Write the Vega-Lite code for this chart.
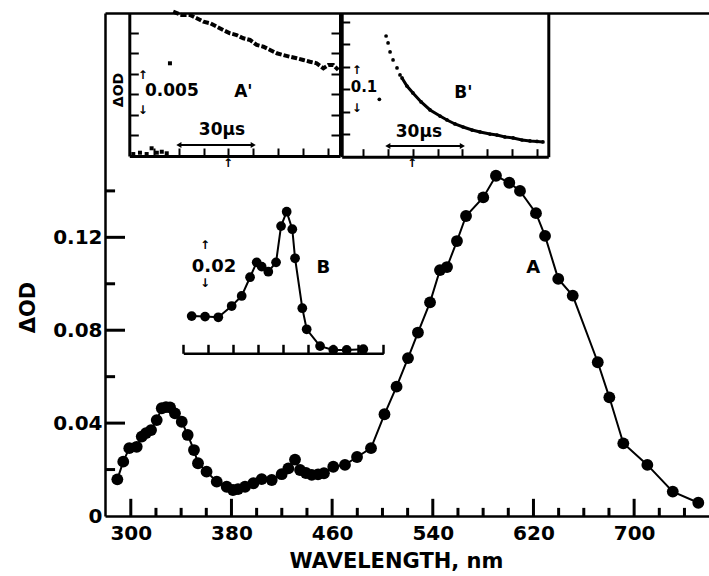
{
  "$schema": "https://vega.github.io/schema/vega-lite/v6.json",
  "width": 604,
  "height": 503,
  "autosize": {"type": "none"},
  "padding": {"left": 105, "top": 13, "right": 0, "bottom": 60},
  "background": "white",
  "config": {
    "view": {"stroke": null},
    "axis": {
      "grid": false, "domainColor": "#000", "tickColor": "#000", "labelColor": "#000", "titleColor": "#000",
      "labelFont": "DejaVu Sans", "titleFont": "DejaVu Sans", "labelFontWeight": "bold", "titleFontWeight": "bold",
      "labelFontSize": 20, "titleFontSize": 21, "domainWidth": 2.5, "tickWidth": 2.5,
      "labelFlush": false, "labelOverlap": false, "labelBound": false
    },
    "text": {"font": "DejaVu Sans", "fontWeight": "bold", "color": "#000"}
  },
  "datasets": {
    "main": [
      {"wl": 289.3, "od": 0.0158}, {"wl": 294.0, "od": 0.0234}, {"wl": 298.8, "od": 0.0292}, {"wl": 304.7, "od": 0.0298},
      {"wl": 308.7, "od": 0.0342}, {"wl": 312.1, "od": 0.0357}, {"wl": 316.1, "od": 0.0370}, {"wl": 320.6, "od": 0.0413},
      {"wl": 324.6, "od": 0.0464}, {"wl": 328.0, "od": 0.0469}, {"wl": 331.2, "od": 0.0468}, {"wl": 335.1, "od": 0.0442},
      {"wl": 340.5, "od": 0.0406}, {"wl": 345.2, "od": 0.0349}, {"wl": 350.2, "od": 0.0284}, {"wl": 353.4, "od": 0.0227},
      {"wl": 360.2, "od": 0.0191}, {"wl": 368.3, "od": 0.0148}, {"wl": 376.2, "od": 0.0126}, {"wl": 381.2, "od": 0.0112},
      {"wl": 385.2, "od": 0.0116}, {"wl": 390.8, "od": 0.0126}, {"wl": 397.4, "od": 0.0141}, {"wl": 404.0, "od": 0.0159},
      {"wl": 412.0, "od": 0.0155}, {"wl": 419.9, "od": 0.0180}, {"wl": 425.2, "od": 0.0205}, {"wl": 430.5, "od": 0.0243},
      {"wl": 434.5, "od": 0.0198}, {"wl": 439.2, "od": 0.0185}, {"wl": 443.8, "od": 0.0177}, {"wl": 448.8, "od": 0.0179},
      {"wl": 453.5, "od": 0.0184}, {"wl": 460.9, "od": 0.0212}, {"wl": 470.2, "od": 0.0220}, {"wl": 479.8, "od": 0.0254},
      {"wl": 490.9, "od": 0.0292}, {"wl": 501.6, "od": 0.0438}, {"wl": 511.2, "od": 0.0557}, {"wl": 520.3, "od": 0.0680},
      {"wl": 528.2, "od": 0.0790}, {"wl": 537.8, "od": 0.0920}, {"wl": 545.7, "od": 0.1059}, {"wl": 551.3, "od": 0.1072},
      {"wl": 559.2, "od": 0.1184}, {"wl": 566.4, "od": 0.1292}, {"wl": 580.1, "od": 0.1372}, {"wl": 590.2, "od": 0.1465},
      {"wl": 600.8, "od": 0.1435}, {"wl": 609.3, "od": 0.1400}, {"wl": 622.0, "od": 0.1304}, {"wl": 629.2, "od": 0.1206},
      {"wl": 639.7, "od": 0.1021}, {"wl": 651.2, "od": 0.0949}, {"wl": 671.1, "od": 0.0662}, {"wl": 680.3, "od": 0.0511},
      {"wl": 691.4, "od": 0.0313}, {"wl": 710.5, "od": 0.0220}, {"wl": 730.7, "od": 0.0105}, {"wl": 751.0, "od": 0.0057}
    ],
    "xMajorTicks": [{"wl": 300}, {"wl": 380}, {"wl": 460}, {"wl": 540}, {"wl": 620}, {"wl": 700}],
    "xMinorTicks": [{"wl": 320}, {"wl": 340}, {"wl": 360}, {"wl": 400}, {"wl": 420}, {"wl": 440}, {"wl": 480}, {"wl": 500}, {"wl": 520},
      {"wl": 560}, {"wl": 580}, {"wl": 600}, {"wl": 640}, {"wl": 660}, {"wl": 680}, {"wl": 720}, {"wl": 740}],
    "yMajorTicks": [{"od": 0.04}, {"od": 0.08}, {"od": 0.12}],
    "yMinorTicks": [{"od": 0.02}, {"od": 0.06}, {"od": 0.10}, {"od": 0.14}],
    "insetB": [
      {"wl": 346.7, "od": 0.0155}, {"wl": 357.4, "od": 0.0153}, {"wl": 368.0, "od": 0.0150}, {"wl": 378.7, "od": 0.0197},
      {"wl": 386.7, "od": 0.0239}, {"wl": 393.4, "od": 0.0317}, {"wl": 398.7, "od": 0.0379}, {"wl": 402.7, "od": 0.0361},
      {"wl": 408.0, "od": 0.0340}, {"wl": 414.2, "od": 0.0379}, {"wl": 418.2, "od": 0.0530}, {"wl": 422.7, "od": 0.0590},
      {"wl": 427.2, "od": 0.0517}, {"wl": 429.4, "od": 0.0396}, {"wl": 435.2, "od": 0.0188}, {"wl": 438.7, "od": 0.0100},
      {"wl": 449.4, "od": 0.0030}, {"wl": 460.0, "od": 0.0014}, {"wl": 470.7, "od": 0.0014}, {"wl": 484.0, "od": 0.0017}
    ],
    "traceA": [
      {"t": 17.7, "v": 0.01756}, {"t": 21.1, "v": 0.01716}, {"t": 24.5, "v": 0.01716}, {"t": 27.2, "v": 0.01676},
      {"t": 29.9, "v": 0.01634}, {"t": 32.6, "v": 0.01615}, {"t": 35.3, "v": 0.01573}, {"t": 37.9, "v": 0.01533},
      {"t": 40.6, "v": 0.01493}, {"t": 43.3, "v": 0.01472}, {"t": 46.0, "v": 0.01432}, {"t": 48.7, "v": 0.01412},
      {"t": 51.4, "v": 0.01351}, {"t": 54.1, "v": 0.01330}, {"t": 56.8, "v": 0.01290}, {"t": 59.5, "v": 0.01250},
      {"t": 62.1, "v": 0.01229}, {"t": 64.8, "v": 0.01208}, {"t": 67.5, "v": 0.01189}, {"t": 70.2, "v": 0.01168},
      {"t": 72.9, "v": 0.01147}, {"t": 75.6, "v": 0.01128}, {"t": 78.3, "v": 0.01067}, {"t": 80.3, "v": 0.01107},
      {"t": 82.3, "v": 0.01107}, {"t": 84.3, "v": 0.01047},
      {"t": 1.6, "v": 0.00024}, {"t": 4.3, "v": 0.0004}, {"t": 7.0, "v": 0.00024}, {"t": 9.0, "v": 0.00094},
      {"t": 11.1, "v": 0.0004}, {"t": 13.1, "v": 0.00052}, {"t": 15.1, "v": 0.00033}, {"t": 16.4, "v": 0.01128}
    ],
    "traceB": [
      {"t": 16.6, "v": 0.1276},
      {"t": 19.3, "v": 0.2682}, {"t": 20.1, "v": 0.2527}, {"t": 20.9, "v": 0.2327}, {"t": 22.1, "v": 0.2149},
      {"t": 23.7, "v": 0.1971}, {"t": 24.9, "v": 0.1816}, {"t": 25.7, "v": 0.1749}, {"t": 27.7, "v": 0.1571},
      {"t": 30.1, "v": 0.1416}, {"t": 33.4, "v": 0.1216}, {"t": 37.0, "v": 0.1038}, {"t": 41.0, "v": 0.0904},
      {"t": 43.8, "v": 0.0816}, {"t": 47.0, "v": 0.0727}, {"t": 50.3, "v": 0.0660}, {"t": 53.9, "v": 0.0593},
      {"t": 57.1, "v": 0.0549}, {"t": 61.1, "v": 0.0504}, {"t": 63.9, "v": 0.0482}, {"t": 67.1, "v": 0.0438},
      {"t": 70.4, "v": 0.0416}, {"t": 74.0, "v": 0.0371}, {"t": 77.2, "v": 0.0349}, {"t": 80.0, "v": 0.0338},
      {"t": 82.4, "v": 0.0327}
    ],
    "mainText": [{"wl": 619.9, "od": 0.1067, "label": "A"}],
    "bText": [{"wl": 452, "od": 0.0354, "label": "B"}, {"wl": 364.6, "od": 0.0361, "label": "0.02"}],
    "bGlyph": [{"wl": 357.4, "od": 0.0450, "label": "↑"}, {"wl": 357.4, "od": 0.0295, "label": "↓"}],
    "aText": [{"t": 46, "v": 0.00779, "label": "A'"}, {"t": 37.4, "v": 0.00316, "label": "30µs"}],
    "aTextLeft": [{"t": 6.33, "v": 0.00785, "label": "0.005"}],
    "aGlyph": [{"t": 5.4, "v": 0.00985, "label": "↑"}, {"t": 5.4, "v": 0.00565, "label": "↓"}, {"t": 39.8, "v": -0.00085, "label": "↑"}],
    "aRule": [{"t": 20, "t2": 50, "v": 0.00134}],
    "aHeads": [{"t": 20, "v": 0.00134, "end": "left"}, {"t": 50, "v": 0.00134, "end": "right"}],
    "aTitle": [{"t": -4.1, "v": 0.00803, "label": "ΔOD"}],
    "pText": [{"t": 50.4, "v": 0.141, "label": "B'"}, {"t": 32.5, "v": 0.0556, "label": "30µs"}],
    "pTextLeft": [{"t": 5.07, "v": 0.155, "label": "0.1"}],
    "pGlyph": [{"t": 7.48, "v": 0.192, "label": "↑"}, {"t": 7.48, "v": 0.108, "label": "↓"}, {"t": 29.7, "v": -0.014, "label": "↑"}],
    "pRule": [{"t": 20, "t2": 50, "v": 0.0238}],
    "pHeads": [{"t": 20, "v": 0.0238, "end": "left"}, {"t": 50, "v": 0.0238, "end": "right"}]
  },
  "layer": [
    {
      "data": {"name": "main"},
      "mark": {"type": "line", "color": "#000", "strokeWidth": 2},
      "encoding": {
        "x": {"field": "wl", "type": "quantitative", "scale": {"domain": [279.5, 759.5], "range": [0, 604], "nice": false, "zero": false},
          "axis": {"orient": "bottom", "values": [300, 380, 460, 540, 620, 700], "ticks": false, "tickSize": 0, "labelPadding": 7,
            "title": "WAVELENGTH, nm", "titleX": 291, "titleY": 51, "titleBaseline": "alphabetic"}},
        "y": {"field": "od", "type": "quantitative", "scale": {"domain": [0, 0.2166], "range": [503, 0], "nice": false, "zero": false},
          "axis": {"orient": "left", "values": [0, 0.04, 0.08, 0.12], "format": ".2~f", "ticks": false, "tickSize": 0, "labelPadding": 3,
            "title": "ΔOD", "titleX": -77, "titleY": 294, "titleBaseline": "middle", "titleAngle": 270}}
      }
    },
    {
      "data": {"name": "main"},
      "mark": {"type": "point", "filled": true, "shape": "circle", "size": 140, "color": "#000", "opacity": 1},
      "encoding": {
        "x": {"field": "wl", "type": "quantitative", "scale": {"domain": [279.5, 759.5], "range": [0, 604], "nice": false, "zero": false}, "axis": null},
        "y": {"field": "od", "type": "quantitative", "scale": {"domain": [0, 0.2166], "range": [503, 0], "nice": false, "zero": false}, "axis": null}
      }
    },
    {
      "data": {"name": "mainText"},
      "mark": {"type": "text", "fontSize": 18},
      "encoding": {
        "x": {"field": "wl", "type": "quantitative", "scale": {"domain": [279.5, 759.5], "range": [0, 604], "nice": false, "zero": false},
          "axis": {"orient": "top", "ticks": false, "labels": false, "domain": true, "title": null}},
        "y": {"field": "od", "type": "quantitative", "scale": {"domain": [0, 0.2166], "range": [503, 0], "nice": false, "zero": false}, "axis": null},
        "text": {"field": "label"}
      }
    },
    {
      "data": {"name": "insetB"},
      "mark": {"type": "line", "color": "#000", "strokeWidth": 2},
      "encoding": {
        "x": {"field": "wl", "type": "quantitative", "scale": {"domain": [340, 500], "range": [78.3, 278.3], "nice": false, "zero": false}, "axis": null},
        "y": {"field": "od", "type": "quantitative", "scale": {"domain": [0, 0.08], "range": [340.3, 148.3], "nice": false, "zero": false}, "axis": null}
      }
    },
    {
      "data": {"name": "insetB"},
      "mark": {"type": "point", "filled": true, "shape": "circle", "size": 95, "color": "#000", "opacity": 1},
      "encoding": {
        "x": {"field": "wl", "type": "quantitative", "scale": {"domain": [340, 500], "range": [78.3, 278.3], "nice": false, "zero": false},
          "axis": {"orient": "bottom", "offset": -162.7, "values": [340, 360, 380, 400, 420, 440, 460, 480, 500], "tickSize": -9, "labels": false, "title": null}},
        "y": {"field": "od", "type": "quantitative", "scale": {"domain": [0, 0.08], "range": [340.3, 148.3], "nice": false, "zero": false}, "axis": null}
      }
    },
    {
      "data": {"name": "bText"},
      "mark": {"type": "text", "fontSize": 18},
      "encoding": {
        "x": {"field": "wl", "type": "quantitative", "scale": {"domain": [340, 500], "range": [78.3, 278.3], "nice": false, "zero": false}, "axis": null},
        "y": {"field": "od", "type": "quantitative", "scale": {"domain": [0, 0.08], "range": [340.3, 148.3], "nice": false, "zero": false}, "axis": null},
        "text": {"field": "label"}
      }
    },
    {
      "data": {"name": "bGlyph"},
      "mark": {"type": "text", "fontSize": 12},
      "encoding": {
        "x": {"field": "wl", "type": "quantitative", "scale": {"domain": [340, 500], "range": [78.3, 278.3], "nice": false, "zero": false}, "axis": null},
        "y": {"field": "od", "type": "quantitative", "scale": {"domain": [0, 0.08], "range": [340.3, 148.3], "nice": false, "zero": false}, "axis": null},
        "text": {"field": "label"}
      }
    },
    {
      "data": {"name": "traceA"},
      "transform": [{"filter": "datum.t > 17 && datum.v > 0.005"}],
      "mark": {"type": "line", "color": "#000", "strokeWidth": 4, "strokeDash": [6, 2]},
      "encoding": {
        "x": {"field": "t", "type": "quantitative", "scale": {"domain": [0, 85], "range": [24.3, 235], "nice": false, "zero": false},
          "axis": {"orient": "bottom", "offset": -360, "values": [10, 20, 30, 40, 50, 60, 70, 80], "tickSize": -8, "tickWidth": 2, "domainWidth": 3, "labels": false, "title": null}},
        "y": {"field": "v", "type": "quantitative", "scale": {"domain": [0, 0.0174], "range": [143, 0], "nice": false, "zero": false},
          "axis": {"orient": "left", "offset": -24.3, "values": [0.0025, 0.005, 0.0075, 0.01, 0.0125, 0.015], "tickSize": -9, "tickWidth": 2, "domainWidth": 3, "labels": false, "title": null}}
      }
    },
    {
      "data": {"name": "traceA"},
      "transform": [{"filter": "datum.t <= 17 || datum.v <= 0.005"}],
      "mark": {"type": "point", "filled": true, "shape": "square", "size": 16, "color": "#000", "opacity": 1},
      "encoding": {
        "x": {"field": "t", "type": "quantitative", "scale": {"domain": [0, 85], "range": [24.3, 235], "nice": false, "zero": false}, "axis": null},
        "y": {"field": "v", "type": "quantitative", "scale": {"domain": [0, 0.0174], "range": [143, 0], "nice": false, "zero": false}, "axis": null}
      }
    },
    {
      "data": {"name": "aText"},
      "mark": {"type": "text", "fontSize": 17},
      "encoding": {
        "x": {"field": "t", "type": "quantitative", "scale": {"domain": [0, 85], "range": [24.3, 235], "nice": false, "zero": false}, "axis": null},
        "y": {"field": "v", "type": "quantitative", "scale": {"domain": [0, 0.0174], "range": [143, 0], "nice": false, "zero": false},
          "axis": {"orient": "right", "offset": -369, "values": [0.0025, 0.005, 0.0075, 0.01, 0.0125, 0.015], "tickSize": -9, "tickWidth": 2, "domainWidth": 3, "labels": false, "title": null}},
        "text": {"field": "label"}
      }
    },
    {
      "data": {"name": "aTextLeft"},
      "mark": {"type": "text", "fontSize": 17, "align": "left"},
      "encoding": {
        "x": {"field": "t", "type": "quantitative", "scale": {"domain": [0, 85], "range": [24.3, 235], "nice": false, "zero": false}, "axis": null},
        "y": {"field": "v", "type": "quantitative", "scale": {"domain": [0, 0.0174], "range": [143, 0], "nice": false, "zero": false}, "axis": null},
        "text": {"field": "label"}
      }
    },
    {
      "data": {"name": "aGlyph"},
      "mark": {"type": "text", "fontSize": 12},
      "encoding": {
        "x": {"field": "t", "type": "quantitative", "scale": {"domain": [0, 85], "range": [24.3, 235], "nice": false, "zero": false}, "axis": null},
        "y": {"field": "v", "type": "quantitative", "scale": {"domain": [0, 0.0174], "range": [143, 0], "nice": false, "zero": false}, "axis": null},
        "text": {"field": "label"}
      }
    },
    {
      "data": {"name": "aRule"},
      "mark": {"type": "rule", "color": "#000", "strokeWidth": 2},
      "encoding": {
        "x": {"field": "t", "type": "quantitative", "scale": {"domain": [0, 85], "range": [24.3, 235], "nice": false, "zero": false}, "axis": null},
        "x2": {"field": "t2"},
        "y": {"field": "v", "type": "quantitative", "scale": {"domain": [0, 0.0174], "range": [143, 0], "nice": false, "zero": false}, "axis": null}
      }
    },
    {
      "data": {"name": "aHeads"},
      "mark": {"type": "point", "filled": true, "size": 35, "color": "#000", "opacity": 1},
      "encoding": {
        "x": {"field": "t", "type": "quantitative", "scale": {"domain": [0, 85], "range": [24.3, 235], "nice": false, "zero": false}, "axis": null},
        "y": {"field": "v", "type": "quantitative", "scale": {"domain": [0, 0.0174], "range": [143, 0], "nice": false, "zero": false}, "axis": null},
        "shape": {"field": "end", "type": "nominal", "scale": {"domain": ["left", "right"], "range": ["triangle-left", "triangle-right"]}, "legend": null}
      }
    },
    {
      "data": {"name": "aTitle"},
      "mark": {"type": "text", "fontSize": 14, "angle": 270},
      "encoding": {
        "x": {"field": "t", "type": "quantitative", "scale": {"domain": [0, 85], "range": [24.3, 235], "nice": false, "zero": false}, "axis": null},
        "y": {"field": "v", "type": "quantitative", "scale": {"domain": [0, 0.0174], "range": [143, 0], "nice": false, "zero": false}, "axis": null},
        "text": {"field": "label"}
      }
    },
    {
      "data": {"name": "traceB"},
      "mark": {"type": "point", "filled": true, "shape": "circle", "size": 14, "color": "#000", "opacity": 1},
      "encoding": {
        "x": {"field": "t", "type": "quantitative", "scale": {"domain": [1.45, 84.55], "range": [236.7, 443.3], "nice": false, "zero": false},
          "axis": {"orient": "bottom", "offset": -359.3, "values": [10, 20, 30, 40, 50, 60, 70, 80], "tickSize": -8, "tickWidth": 2, "domainWidth": 3, "labels": false, "title": null}},
        "y": {"field": "v", "type": "quantitative", "scale": {"domain": [0, 0.3193], "range": [143.7, 0], "nice": false, "zero": false},
          "axis": {"orient": "left", "offset": -236.7, "values": [0.05, 0.1, 0.15, 0.2, 0.25, 0.3], "tickSize": -8, "tickWidth": 2, "domainWidth": 3, "labels": false, "title": null}}
      }
    },
    {
      "data": {"name": "traceB"},
      "transform": [{"filter": "datum.t >= 25"}],
      "mark": {"type": "line", "color": "#000", "strokeWidth": 3},
      "encoding": {
        "x": {"field": "t", "type": "quantitative", "scale": {"domain": [1.45, 84.55], "range": [236.7, 443.3], "nice": false, "zero": false}, "axis": null},
        "y": {"field": "v", "type": "quantitative", "scale": {"domain": [0, 0.3193], "range": [143.7, 0], "nice": false, "zero": false},
          "axis": {"orient": "right", "offset": -160.7, "ticks": false, "labels": false, "domainWidth": 3, "title": null}}
      }
    },
    {
      "data": {"name": "pText"},
      "mark": {"type": "text", "fontSize": 17},
      "encoding": {
        "x": {"field": "t", "type": "quantitative", "scale": {"domain": [1.45, 84.55], "range": [236.7, 443.3], "nice": false, "zero": false}, "axis": null},
        "y": {"field": "v", "type": "quantitative", "scale": {"domain": [0, 0.3193], "range": [143.7, 0], "nice": false, "zero": false}, "axis": null},
        "text": {"field": "label"}
      }
    },
    {
      "data": {"name": "pTextLeft"},
      "mark": {"type": "text", "fontSize": 15, "align": "left"},
      "encoding": {
        "x": {"field": "t", "type": "quantitative", "scale": {"domain": [1.45, 84.55], "range": [236.7, 443.3], "nice": false, "zero": false}, "axis": null},
        "y": {"field": "v", "type": "quantitative", "scale": {"domain": [0, 0.3193], "range": [143.7, 0], "nice": false, "zero": false}, "axis": null},
        "text": {"field": "label"}
      }
    },
    {
      "data": {"name": "pGlyph"},
      "mark": {"type": "text", "fontSize": 12},
      "encoding": {
        "x": {"field": "t", "type": "quantitative", "scale": {"domain": [1.45, 84.55], "range": [236.7, 443.3], "nice": false, "zero": false}, "axis": null},
        "y": {"field": "v", "type": "quantitative", "scale": {"domain": [0, 0.3193], "range": [143.7, 0], "nice": false, "zero": false}, "axis": null},
        "text": {"field": "label"}
      }
    },
    {
      "data": {"name": "pRule"},
      "mark": {"type": "rule", "color": "#000", "strokeWidth": 2},
      "encoding": {
        "x": {"field": "t", "type": "quantitative", "scale": {"domain": [1.45, 84.55], "range": [236.7, 443.3], "nice": false, "zero": false}, "axis": null},
        "x2": {"field": "t2"},
        "y": {"field": "v", "type": "quantitative", "scale": {"domain": [0, 0.3193], "range": [143.7, 0], "nice": false, "zero": false}, "axis": null}
      }
    },
    {
      "data": {"name": "pHeads"},
      "mark": {"type": "point", "filled": true, "size": 35, "color": "#000", "opacity": 1},
      "encoding": {
        "x": {"field": "t", "type": "quantitative", "scale": {"domain": [1.45, 84.55], "range": [236.7, 443.3], "nice": false, "zero": false}, "axis": null},
        "y": {"field": "v", "type": "quantitative", "scale": {"domain": [0, 0.3193], "range": [143.7, 0], "nice": false, "zero": false}, "axis": null},
        "shape": {"field": "end", "type": "nominal", "scale": {"domain": ["left", "right"], "range": ["triangle-left", "triangle-right"]}, "legend": null}
      }
    },
    {
      "data": {"name": "xMajorTicks"},
      "mark": {"type": "rule", "color": "#000", "strokeWidth": 3},
      "encoding": {
        "x": {"field": "wl", "type": "quantitative", "scale": {"domain": [279.5, 759.5], "range": [0, 604], "nice": false, "zero": false}, "axis": null},
        "y": {"datum": 0, "type": "quantitative", "scale": {"domain": [0, 0.2166], "range": [503, 0], "nice": false, "zero": false}, "axis": null},
        "y2": {"datum": 0.0074}
      }
    },
    {
      "data": {"name": "xMinorTicks"},
      "mark": {"type": "rule", "color": "#000", "strokeWidth": 3},
      "encoding": {
        "x": {"field": "wl", "type": "quantitative", "scale": {"domain": [279.5, 759.5], "range": [0, 604], "nice": false, "zero": false}, "axis": null},
        "y": {"datum": 0, "type": "quantitative", "scale": {"domain": [0, 0.2166], "range": [503, 0], "nice": false, "zero": false}, "axis": null},
        "y2": {"datum": 0.0035}
      }
    },
    {
      "data": {"name": "yMajorTicks"},
      "mark": {"type": "rule", "color": "#000", "strokeWidth": 3},
      "encoding": {
        "y": {"field": "od", "type": "quantitative", "scale": {"domain": [0, 0.2166], "range": [503, 0], "nice": false, "zero": false}, "axis": null},
        "x": {"datum": 279.5, "type": "quantitative", "scale": {"domain": [279.5, 759.5], "range": [0, 604], "nice": false, "zero": false}, "axis": null},
        "x2": {"datum": 295.4}
      }
    },
    {
      "data": {"name": "yMinorTicks"},
      "mark": {"type": "rule", "color": "#000", "strokeWidth": 3},
      "encoding": {
        "y": {"field": "od", "type": "quantitative", "scale": {"domain": [0, 0.2166], "range": [503, 0], "nice": false, "zero": false}, "axis": null},
        "x": {"datum": 279.5, "type": "quantitative", "scale": {"domain": [279.5, 759.5], "range": [0, 604], "nice": false, "zero": false}, "axis": null},
        "x2": {"datum": 287.5}
      }
    }
  ],
  "resolve": {
    "scale": {"x": "independent", "y": "independent", "shape": "independent"},
    "axis": {"x": "independent", "y": "independent"}
  }
}
